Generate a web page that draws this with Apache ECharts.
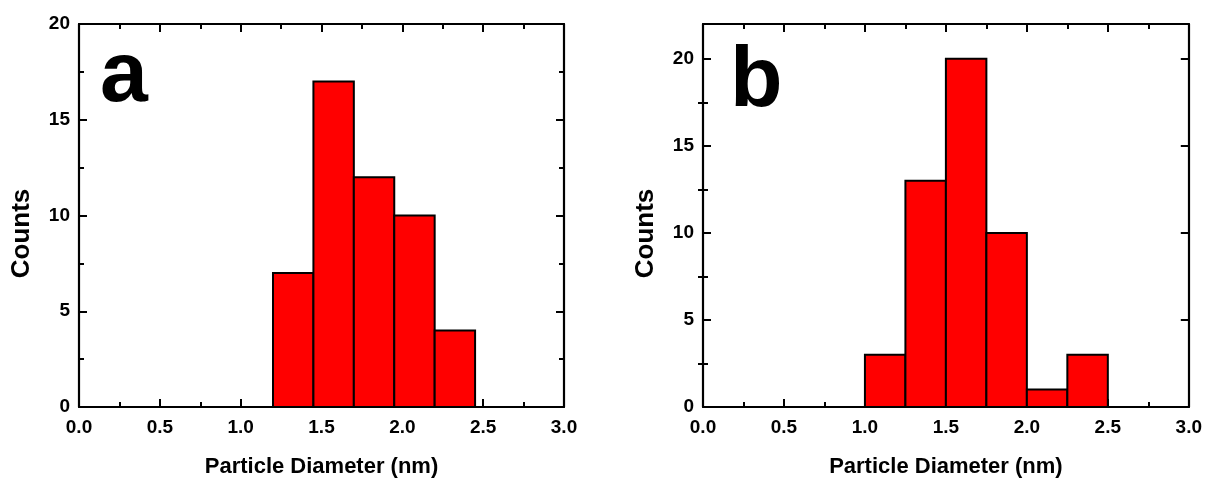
<!DOCTYPE html>
<html>
<head>
<meta charset="utf-8">
<script src="https://cdn.jsdelivr.net/npm/echarts@6/dist/echarts.min.js"></script>
<style>
html,body{margin:0;padding:0;background:#fff;}
#chart{width:1205px;height:483px;}
</style>
</head>
<body>
<div id="chart"></div>
<script>
// ---- data ----
const binEdgesA = [1.2, 1.45, 1.7, 1.95, 2.2, 2.45];
const countsA = [7, 17, 12, 10, 4];
const binEdgesB = [1.0, 1.25, 1.5, 1.75, 2.0, 2.25, 2.5];
const countsB = [3, 13, 20, 10, 1, 3];
const xMin = 0, xMax = 3, xInterval = 0.5;
const yMaxA = 20, yMaxB = 22, yInterval = 5;
const yMajorB = [0, 5, 10, 15, 20];
const yMinorB = [2.5, 7.5, 12.5, 17.5];
const panelLetters = ['a', 'b'];
const xTitle = 'Particle Diameter (nm)';
const yTitle = 'Counts';

const FONT = 'Liberation Sans, Arial, Helvetica, sans-serif';

function toBins(edges, counts) {
  return counts.map((c, i) => [edges[i], edges[i + 1], c]);
}

function renderBar(params, api) {
  const p0 = api.coord([api.value(0), 0]);
  const p1 = api.coord([api.value(1), api.value(2)]);
  return {
    type: 'rect',
    shape: { x: p0[0], y: p1[1], width: p1[0] - p0[0], height: p0[1] - p1[1] },
    style: { fill: '#ff0000', stroke: '#000', lineWidth: 2 }
  };
}

const lineStyle = { color: '#000', width: 2.2 };
const tickStyle = { color: '#000', width: 2 };
const yNameStyle = { color: '#000', fontFamily: FONT, fontWeight: 'bold', fontSize: 26, padding: [0, 36, 0, 0] };

function xAxes(gridIndex) {
  return [
    {
      gridIndex, type: 'value', position: 'bottom', min: xMin, max: xMax, interval: xInterval,
      axisLine: { show: true, onZero: false, lineStyle },
      axisTick: { show: true, inside: true, length: 8, lineStyle: tickStyle },
      minorTick: { show: true, splitNumber: 2, length: 5, lineStyle: tickStyle },
      splitLine: { show: false },
      axisLabel: { color: '#000', fontFamily: FONT, fontWeight: 'bold', fontSize: 19, margin: 11,
        formatter: v => v.toFixed(1) },
      name: xTitle, nameLocation: 'middle', nameGap: 49,
      nameTextStyle: { color: '#000', fontFamily: FONT, fontWeight: 'bold', fontSize: 22 }
    },
    {
      gridIndex, type: 'value', position: 'top', min: xMin, max: xMax, interval: xInterval,
      axisLine: { show: true, onZero: false, lineStyle },
      axisTick: { show: true, inside: true, length: 8, lineStyle: tickStyle },
      minorTick: { show: true, splitNumber: 2, length: 5, lineStyle: tickStyle },
      splitLine: { show: false },
      axisLabel: { show: false }
    }
  ];
}

const option = {
  backgroundColor: '#fff',
  animation: false,
  grid: [
    { left: 79, top: 24, width: 485, height: 385 },
    { left: 703, top: 24, width: 486, height: 384 }
  ],
  xAxis: [].concat(xAxes(0), xAxes(1)),
  yAxis: [
    // panel a
    {
      gridIndex: 0, type: 'value', position: 'left', min: 0, max: yMaxA, interval: yInterval,
      axisLine: { show: true, onZero: false, lineStyle },
      axisTick: { show: true, inside: true, length: 8, lineStyle: tickStyle },
      minorTick: { show: true, splitNumber: 2, length: 5, lineStyle: tickStyle },
      splitLine: { show: false },
      axisLabel: { color: '#000', fontFamily: FONT, fontWeight: 'bold', fontSize: 19, margin: 9 },
      name: yTitle, nameLocation: 'middle', nameGap: 44, nameRotate: 90,
      nameTextStyle: yNameStyle
    },
    {
      gridIndex: 0, type: 'value', position: 'right', min: 0, max: yMaxA, interval: yInterval,
      axisLine: { show: true, onZero: false, lineStyle },
      axisTick: { show: true, inside: true, length: 8, lineStyle: tickStyle },
      minorTick: { show: true, splitNumber: 2, length: 5, lineStyle: tickStyle },
      splitLine: { show: false },
      axisLabel: { show: false }
    },
    // panel b
    {
      gridIndex: 1, type: 'value', position: 'left', min: 0, max: yMaxB, interval: yInterval,
      axisLine: { show: true, onZero: false, lineStyle },
      axisTick: { show: true, inside: true, length: 8, lineStyle: tickStyle, customValues: yMajorB },
      splitLine: { show: false },
      axisLabel: { color: '#000', fontFamily: FONT, fontWeight: 'bold', fontSize: 19, margin: 9,
        customValues: yMajorB },
      name: yTitle, nameLocation: 'middle', nameGap: 44, nameRotate: 90,
      nameTextStyle: yNameStyle
    },
    {
      gridIndex: 1, type: 'value', position: 'right', min: 0, max: yMaxB, interval: yInterval,
      axisLine: { show: true, onZero: false, lineStyle },
      axisTick: { show: true, inside: true, length: 8, lineStyle: tickStyle, customValues: yMajorB },
      splitLine: { show: false },
      axisLabel: { show: false }
    },
    {
      gridIndex: 1, type: 'value', position: 'left', min: 0, max: yMaxB,
      axisLine: { show: false },
      axisTick: { show: true, inside: true, length: 5, lineStyle: tickStyle, customValues: yMinorB },
      splitLine: { show: false },
      axisLabel: { show: false }
    },
    {
      gridIndex: 1, type: 'value', position: 'right', min: 0, max: yMaxB,
      axisLine: { show: false },
      axisTick: { show: true, inside: true, length: 5, lineStyle: tickStyle, customValues: yMinorB },
      splitLine: { show: false },
      axisLabel: { show: false }
    }
  ],
  graphic: [
    { type: 'text', x: 100, y: 77, style: { text: panelLetters[0], font: 'bold 86px ' + FONT,
      fill: '#000', textVerticalAlign: 'middle' } },
    { type: 'text', x: 730, y: 82, style: { text: panelLetters[1], font: 'bold 86px ' + FONT,
      fill: '#000', textVerticalAlign: 'middle' } }
  ],
  series: [
    { type: 'custom', xAxisIndex: 0, yAxisIndex: 0, renderItem: renderBar,
      data: toBins(binEdgesA, countsA), encode: { x: [0, 1], y: 2 } },
    { type: 'custom', xAxisIndex: 2, yAxisIndex: 2, renderItem: renderBar,
      data: toBins(binEdgesB, countsB), encode: { x: [0, 1], y: 2 } }
  ]
};

const chart = echarts.init(document.getElementById('chart'), null, { renderer: 'canvas' });
chart.setOption(option);
</script>
</body>
</html>
